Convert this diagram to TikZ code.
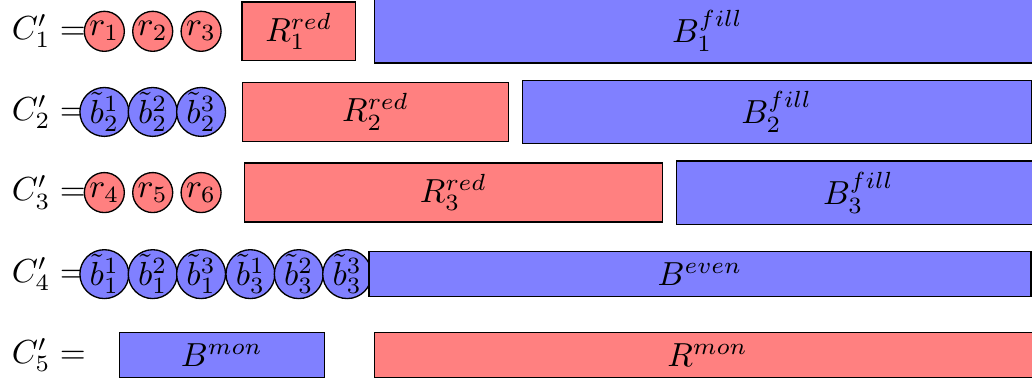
\documentclass[tikz,border=0pt]{standalone}
\usepackage{amsmath}
\usepackage{amsfonts}
\usepackage{tikz}

\begin{document}
\begin{tikzpicture}[
	redbox/.style = {draw, fill = red!50},
	bluebox/.style = {draw, fill = blue!50},
	redball/.style = {draw, circle, fill = red!50, inner sep = 0pt, minimum size = 12pt},
	blueball/.style = {draw, circle, fill = blue!50, inner sep = 0pt, minimum size = 12pt}]
\useasboundingbox (0, 0) rectangle (10.88, -4.03);
\clip (0, 0) rectangle (10.88, -4.03);

\node[anchor = west] (c1) at (0, -0.33) {$C'_1 =$};
\node[redball] (r1) at (1.10, -0.33) {$r_1$};
\node[redball] (r2) at (1.61, -0.33) {$r_2$};
\node[redball] (r3) at (2.12, -0.33) {$r_3$};
\node[redbox, minimum width = 1.20cm] (red1) at (3.15, -0.33) {$R_1^{red}$};
\node[bluebox, minimum width = 7.03cm] (fill1) at (7.46, -0.33) {$B_1^{fill}$};

\node[anchor = west] (c2) at (0, -1.18) {$C'_2 =$};
\node[blueball] (b21) at (1.10, -1.18) {$\tilde{b}_2^1$};
\node[blueball] (b22) at (1.61, -1.18) {$\tilde{b}_2^2$};
\node[blueball] (b23) at (2.12, -1.18) {$\tilde{b}_2^3$};
\node[redbox, minimum width = 2.80cm] (red2) at (3.96, -1.18) {$R_2^{red}$};
\node[bluebox, minimum width = 5.37cm] (fill2) at (8.19, -1.18) {$B_2^{fill}$};

\node[anchor = west] (c3) at (0, -2.03) {$C'_3 =$};
\node[redball] (r4) at (1.10, -2.03) {$r_4$};
\node[redball] (r5) at (1.61, -2.03) {$r_5$};
\node[redball] (r6) at (2.12, -2.03) {$r_6$};
\node[redbox, minimum width = 4.41cm] (red3) at (4.78, -2.03) {$R_3^{red}$};
\node[bluebox, minimum width = 3.84cm] (fill3) at (9.05, -2.03) {$B_3^{fill}$};

\node[anchor = west] (c4) at (0, -2.89) {$C'_4 =$};
\node[blueball] (b11) at (1.10, -2.89) {$\tilde{b}_1^1$};
\node[blueball] (b12) at (1.61, -2.89) {$\tilde{b}_1^2$};
\node[blueball] (b13) at (2.12, -2.89) {$\tilde{b}_1^3$};
\node[blueball] (b31) at (2.64, -2.89) {$\tilde{b}_3^1$};
\node[blueball] (b32) at (3.15, -2.89) {$\tilde{b}_3^2$};
\node[blueball] (b33) at (3.66, -2.89) {$\tilde{b}_3^3$};
\node[bluebox, minimum width = 6.98cm] (even) at (7.38, -2.89) {$B^{even}$};

\node[anchor = west] (c5) at (0, -3.74) {$C'_5 =$};
\node[bluebox, minimum width = 2.16cm] (bmon) at (2.34, -3.74) {$B^{mon}$};
\node[redbox, minimum width = 7.03cm] (rmon) at (7.46, -3.74) {$R^{mon}$};
\end{tikzpicture}
\end{document}
